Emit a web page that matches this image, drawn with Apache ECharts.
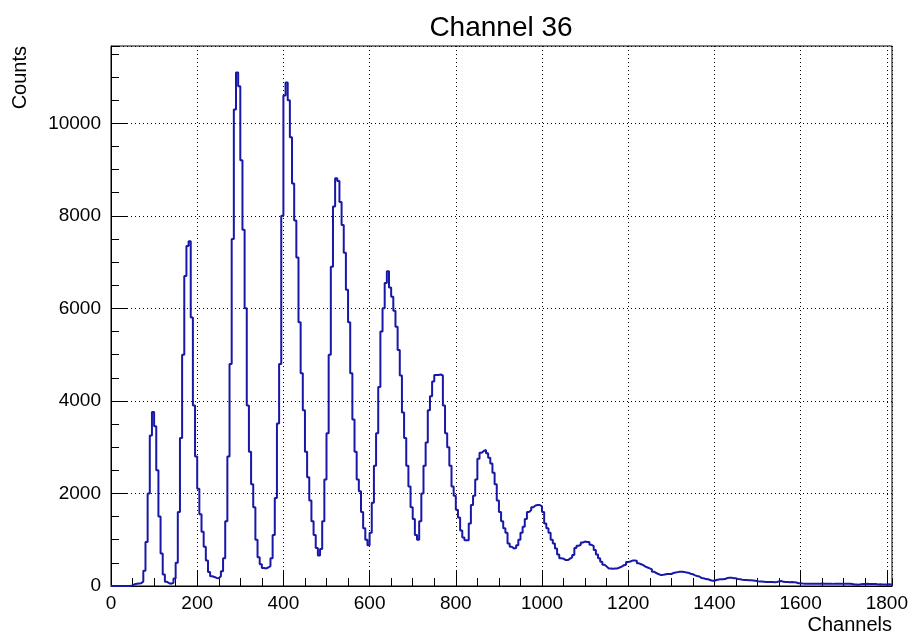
<!DOCTYPE html>
<html>
<head>
<meta charset="utf-8">
<script src="https://cdn.jsdelivr.net/npm/echarts@6/dist/echarts.min.js"></script>
<style>
html,body{margin:0;padding:0;background:#fff;}
#chart{width:911px;height:635px;}
</style>
</head>
<body>
<div id="chart"></div>
<script>
// ---- data ----
const chartTitle = "Channel 36";
const xTitle = "Channels";
const yTitle = "Counts";
const binWidth = 5;          // channels per bin
const xRange = [0, 1812];
const yRange = [0, 11670];
const xMajor = 200, xMinor = 50;
const yMajor = 2000, yMinor = 500;
// counts per bin, bin i covers [i*binWidth, (i+1)*binWidth)
const counts = [
  0,0,0,0,0,0,0,0,0,10,
  40,50,55,60,100,330,950,2000,3250,3760,
  3450,2500,1500,700,250,90,60,50,70,160,
  500,1600,3200,5000,6700,7350,7450,5800,3900,2800,
  2100,1550,1170,850,550,300,210,195,175,170,
  210,320,600,1400,2800,4800,7500,10300,11100,10800,
  9200,7700,6000,3900,2900,2200,1700,1000,620,470,
  390,380,400,430,600,1100,1900,3510,4800,8000,
  10600,10880,10500,9700,8700,7900,7100,5700,4600,3800,
  2900,2350,1850,1400,1100,820,660,800,1400,2300,
  3300,5000,6900,8200,8810,8750,8300,7800,7200,6400,
  5700,4600,3600,2900,2300,2050,1600,1250,1000,880,
  1150,1800,2600,3300,4300,5500,6000,6550,6800,6450,
  6250,5950,5600,5100,4550,3750,3200,2600,2150,1700,
  1450,1100,1000,1400,2000,2600,3100,3800,4100,4420,
  4560,4560,4570,4550,3900,3300,3000,2600,2150,1950,
  1650,1480,1200,1050,990,990,1350,1750,1950,2300,
  2750,2880,2920,2940,2870,2770,2650,2450,2200,1850,
  1600,1400,1250,1150,920,850,810,820,880,1000,
  1150,1280,1450,1600,1640,1700,1740,1750,1750,1720,
  1600,1350,1250,1150,1000,920,810,680,600,590,
  560,560,590,620,670,820,870,890,940,960,
  950,950,890,860,780,680,600,525,460,420,
  380,380,375,380,380,400,420,450,460,520,
  530,550,550,545,490,470,450,420,400,380,
  360,310,280,260,240,240,250,260,260,260,
  280,290,300,310,310,305,290,285,265,255,
  230,215,205,175,170,150,145,130,115,115,
  130,140,145,145,150,175,180,180,170,165,
  150,145,135,130,130,125,125,120,115,105,
  95,95,90,85,85,85,85,80,85,100,
  110,90,85,85,80,85,80,75,60,58,
  52,50,48,50,51,49,50,47,50,52,
  48,50,49,50,46,50,48,51,49,47,
  50,48,50,45,32,30,28,40,45,44,
  46,45,43,45,44,35,36,34,35,33,
  36,35,34
];

// ---- build step data at bin edges ----
const stepData = counts.map((c, i) => [i * binWidth, c]);
stepData.push([counts.length * binWidth, counts[counts.length - 1]]);

const FONT = "'Liberation Sans', Arial, Helvetica, sans-serif";
const LINE = '#1818a8';
const plain = v => String(v);

const chart = echarts.init(document.getElementById('chart'), null, {renderer: 'canvas'});
const gridCfg = {left: 111, right: 19, top: 46, bottom: 49, show: true, borderColor: '#000', borderWidth: 1, backgroundColor: 'transparent'};

chart.setOption({
  animation: false,
  backgroundColor: '#fff',
  grid: gridCfg,
  xAxis: [
    {
      type: 'value', min: xRange[0], max: xRange[1], interval: xMajor, position: 'bottom',
      axisLine: {show: true, onZero: false, lineStyle: {color: '#000', width: 1}},
      axisTick: {show: true, inside: true, length: 16, lineStyle: {color: '#000', width: 1}},
      axisLabel: {show: true, margin: 8, color: '#000', fontSize: 19, fontFamily: FONT, showMaxLabel: false, formatter: plain},
      splitLine: {show: true, lineStyle: {color: '#000', width: 1, type: [1, 3]}}
    },
    {
      type: 'value', min: xRange[0], max: xRange[1], interval: xMinor, position: 'bottom', offset: 0,
      axisLine: {show: false},
      axisTick: {show: true, inside: true, length: 8, lineStyle: {color: '#000', width: 1}},
      axisLabel: {show: false},
      splitLine: {show: false}
    }
  ],
  yAxis: [
    {
      type: 'value', min: yRange[0], max: yRange[1], interval: yMajor, position: 'left',
      axisLine: {show: true, onZero: false, lineStyle: {color: '#000', width: 1}},
      axisTick: {show: true, inside: true, length: 16, lineStyle: {color: '#000', width: 1}},
      axisLabel: {show: true, margin: 10, color: '#000', fontSize: 19, fontFamily: FONT, showMaxLabel: false, formatter: plain},
      splitLine: {show: true, lineStyle: {color: '#000', width: 1, type: [1, 3]}}
    },
    {
      type: 'value', min: yRange[0], max: yRange[1], interval: yMinor, position: 'left', offset: 0,
      axisLine: {show: false},
      axisTick: {show: true, inside: true, length: 8, lineStyle: {color: '#000', width: 1}},
      axisLabel: {show: false},
      splitLine: {show: false}
    }
  ],
  series: [{
    type: 'line',
    xAxisIndex: 0, yAxisIndex: 0,
    step: 'end',
    data: stepData,
    showSymbol: false,
    symbol: 'none',
    clip: true,
    lineStyle: {color: LINE, width: 2},
    z: 5
  }],
  graphic: [
    {type: 'text', x: 501, y: 28, style: {text: chartTitle, font: '28px ' + FONT, fill: '#000', align: 'center', verticalAlign: 'middle'}},
    {type: 'text', x: 892, y: 625, style: {text: xTitle, font: '20px ' + FONT, fill: '#000', align: 'right', verticalAlign: 'middle'}},
    {type: 'text', x: 20, y: 46, rotation: Math.PI / 2, style: {text: yTitle, font: '20px ' + FONT, fill: '#000', align: 'right', verticalAlign: 'middle'}}
  ]
});
</script>
</body>
</html>
